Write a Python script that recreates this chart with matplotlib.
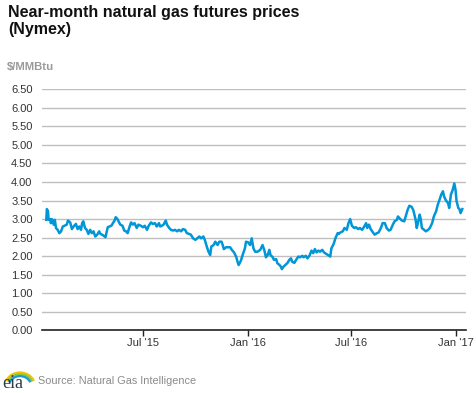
import matplotlib
matplotlib.use("Agg")
import matplotlib.pyplot as plt
from matplotlib.patches import Arc
import pandas as pd

dates = [
    "2015-01-12", "2015-01-13", "2015-01-15", "2015-01-16", "2015-01-19", "2015-01-20", "2015-01-22",
    "2015-01-25", "2015-01-27", "2015-01-29", "2015-02-01", "2015-02-04", "2015-02-07", "2015-02-10",
    "2015-02-13", "2015-02-17", "2015-02-19", "2015-02-23", "2015-02-26", "2015-03-01", "2015-03-05",
    "2015-03-08", "2015-03-11", "2015-03-14", "2015-03-16", "2015-03-18", "2015-03-21", "2015-03-24",
    "2015-03-27", "2015-03-30", "2015-04-02", "2015-04-05", "2015-04-08", "2015-04-11", "2015-04-15",
    "2015-04-17", "2015-04-20", "2015-04-23", "2015-04-26", "2015-04-30", "2015-05-03", "2015-05-07",
    "2015-05-09", "2015-05-12", "2015-05-14", "2015-05-17", "2015-05-20", "2015-05-22", "2015-05-26",
    "2015-05-29", "2015-06-01", "2015-06-04", "2015-06-07", "2015-06-10", "2015-06-13", "2015-06-16",
    "2015-06-20", "2015-06-23", "2015-06-27", "2015-07-01", "2015-07-04", "2015-07-08", "2015-07-11",
    "2015-07-15", "2015-07-18", "2015-07-22", "2015-07-25", "2015-07-29", "2015-07-31", "2015-08-03",
    "2015-08-06", "2015-08-10", "2015-08-12", "2015-08-16", "2015-08-19", "2015-08-23", "2015-08-26",
    "2015-08-30", "2015-09-02", "2015-09-06", "2015-09-09", "2015-09-13", "2015-09-16", "2015-09-20",
    "2015-09-23", "2015-09-27", "2015-10-01", "2015-10-04", "2015-10-08", "2015-10-11", "2015-10-15",
    "2015-10-18", "2015-10-21", "2015-10-24", "2015-10-27", "2015-10-29", "2015-11-02", "2015-11-05",
    "2015-11-09", "2015-11-12", "2015-11-16", "2015-11-18", "2015-11-20", "2015-11-24", "2015-11-27",
    "2015-12-01", "2015-12-04", "2015-12-08", "2015-12-12", "2015-12-14", "2015-12-16", "2015-12-20",
    "2015-12-23", "2015-12-27", "2015-12-29", "2016-01-02", "2016-01-05",
    "2016-01-08", "2016-01-11", "2016-01-14", "2016-01-18", "2016-01-23", "2016-01-27", "2016-01-30",
    "2016-02-02", "2016-02-05", "2016-02-08", "2016-02-10", "2016-02-14", "2016-02-16", "2016-02-20",
    "2016-02-22", "2016-02-26", "2016-02-28", "2016-03-01", "2016-03-04", "2016-03-07", "2016-03-11",
    "2016-03-14", "2016-03-17", "2016-03-19", "2016-03-23", "2016-03-26", "2016-03-30", "2016-04-02",
    "2016-04-06", "2016-04-08", "2016-04-12", "2016-04-15", "2016-04-19", "2016-04-22", "2016-04-25",
    "2016-04-28", "2016-05-01", "2016-05-04", "2016-05-07", "2016-05-11", "2016-05-14", "2016-05-18",
    "2016-05-21", "2016-05-25", "2016-05-27", "2016-05-31", "2016-06-03", "2016-06-07", "2016-06-09",
    "2016-06-12", "2016-06-16", "2016-06-19", "2016-06-23", "2016-06-26", "2016-06-29", "2016-07-02",
    "2016-07-06", "2016-07-09", "2016-07-13", "2016-07-16", "2016-07-20", "2016-07-23", "2016-07-27",
    "2016-07-29", "2016-08-01", "2016-08-04", "2016-08-08", "2016-08-11", "2016-08-15", "2016-08-18",
    "2016-08-22", "2016-08-25", "2016-08-29", "2016-09-01", "2016-09-05", "2016-09-08", "2016-09-12",
    "2016-09-15", "2016-09-19", "2016-09-21", "2016-09-25", "2016-09-28", "2016-10-02", "2016-10-05",
    "2016-10-08", "2016-10-11", "2016-10-15", "2016-10-18", "2016-10-22", "2016-10-24", "2016-10-26",
    "2016-10-29", "2016-10-31", "2016-11-02", "2016-11-06", "2016-11-09", "2016-11-13", "2016-11-16",
    "2016-11-20", "2016-11-23", "2016-11-27", "2016-11-30", "2016-12-03", "2016-12-06", "2016-12-09",
    "2016-12-11", "2016-12-14", "2016-12-18", "2016-12-20", "2016-12-23", "2016-12-26", "2016-12-29",
    "2016-12-31", "2017-01-02", "2017-01-05", "2017-01-07", "2017-01-09", "2017-01-12",
]

prices = [
    2.98, 3.27, 3.21, 2.98, 3.00, 2.89, 3.00,
    2.85, 2.98, 2.76, 2.71, 2.62, 2.67, 2.80,
    2.82, 2.85, 2.96, 2.91, 2.73, 2.80, 2.87,
    2.73, 2.80, 2.71, 2.89, 2.94, 2.76, 2.71,
    2.60, 2.71, 2.62, 2.67, 2.53, 2.57, 2.67,
    2.60, 2.58, 2.55, 2.51, 2.78, 2.80, 2.83,
    2.89, 2.96, 3.05, 3.00, 2.91, 2.85, 2.82,
    2.69, 2.67, 2.62, 2.78, 2.91, 2.85, 2.89,
    2.76, 2.85, 2.82, 2.78, 2.82, 2.71, 2.82,
    2.91, 2.87, 2.89, 2.80, 2.89, 2.80, 2.82,
    2.85, 2.96, 2.85, 2.76, 2.71, 2.69, 2.71,
    2.67, 2.71, 2.67, 2.73, 2.71, 2.62, 2.60,
    2.58, 2.48, 2.44, 2.48, 2.53, 2.48, 2.53,
    2.42, 2.26, 2.12, 2.03, 2.26, 2.30, 2.39,
    2.30, 2.39, 2.39, 2.30, 2.19, 2.24, 2.24,
    2.24, 2.17, 2.10, 1.97, 1.85, 1.76, 1.88,
    2.03, 2.21, 2.39, 2.37, 2.30,
    2.48, 2.21, 2.12, 2.12, 2.17, 2.30, 2.17,
    1.97, 2.03, 2.17, 2.03, 1.97, 1.90, 1.92,
    1.81, 1.76, 1.72, 1.65, 1.72, 1.76, 1.82,
    1.90, 1.94, 1.85, 1.82, 1.90, 1.99, 1.97,
    2.01, 1.97, 2.01, 1.94, 2.03, 2.15, 2.08,
    2.19, 2.10, 2.15, 2.12, 2.17, 2.10, 2.06,
    2.03, 1.99, 2.21, 2.33, 2.48, 2.62, 2.60,
    2.64, 2.67, 2.76, 2.71, 2.89, 3.00, 2.82,
    2.76, 2.78, 2.73, 2.76, 2.71, 2.78, 2.89,
    2.76, 2.85, 2.73, 2.64, 2.58, 2.62, 2.64,
    2.76, 2.89, 2.89, 2.76, 2.69, 2.71, 2.85,
    2.94, 2.98, 3.07, 3.00, 2.96, 2.94, 3.09,
    3.25, 3.36, 3.33, 3.24, 2.98, 2.76, 2.89,
    3.12, 3.00, 2.76, 2.71, 2.67, 2.71, 2.76,
    2.89, 3.07, 3.21, 3.39, 3.52, 3.66, 3.75,
    3.61, 3.51, 3.43, 3.30, 3.66, 3.78, 3.96,
    3.80, 3.48, 3.30, 3.27, 3.16, 3.27,
]

y_ticks = [0.0, 0.5, 1.0, 1.5, 2.0, 2.5, 3.0, 3.5, 4.0, 4.5, 5.0, 5.5, 6.0, 6.5]
x_ticks = ["2015-07-01", "2016-01-01", "2016-07-01", "2017-01-01"]
x_tick_labels = ["Jul '15", "Jan '16", "Jul '16", "Jan '17"]
x_range = ["2015-01-05", "2017-01-18"]

title = "Near-month natural gas futures prices\n(Nymex)"
unit = "$/MMBtu"
source = "Source: Natural Gas Intelligence"

plt.rcParams['font.family'] = ['Liberation Sans', 'DejaVu Sans']

fig = plt.figure(figsize=(4.77, 3.93), dpi=100)
ax = fig.add_axes([0.0887, 0.1595, 0.8876, 0.6133])

d = pd.to_datetime(dates)
ax.plot(d, prices, color="#0096d7", lw=1.8, solid_joinstyle="round")

ax.set_ylim(0, 6.5)
ax.set_yticks(y_ticks)
ax.set_yticklabels([f"{v:.2f}" for v in y_ticks])
ax.set_xlim(pd.to_datetime(x_range[0]), pd.to_datetime(x_range[1]))
ax.set_xticks(pd.to_datetime(x_ticks))
ax.set_xticklabels(x_tick_labels)

ax.grid(axis="y", color="#bfbfbf", lw=1)
ax.set_axisbelow(True)
for s in ["top", "right", "left"]:
    ax.spines[s].set_visible(False)
ax.spines["bottom"].set_color("#222222")
ax.spines["bottom"].set_linewidth(1.2)
ax.tick_params(axis="y", length=0, pad=7, labelsize=8, labelcolor="#333333")
ax.tick_params(axis="x", length=4, width=1, color="#222222", pad=1.5, labelsize=8, labelcolor="#333333")

fig.text(8 / 477, 1 - 5 / 393, title, ha="left", va="top", fontsize=11.5,
         fontweight="bold", color="#111111", linespacing=1.2)
fig.text(7 / 477, 1 - 67 / 393, unit, ha="left", va="center", fontsize=8.2,
         fontweight="bold", color="#9a9a9a")
fig.text(38 / 477, 1 - 381 / 393, source, ha="left", va="center", fontsize=7.8,
         color="#8a8a8a")

# eia logo
fig.text(2 / 477, 1 - 383 / 393, "eia", ha="left", va="center", fontsize=13,
         family="Liberation Serif", color="#2a3a4a")
lax = fig.add_axes([0, 0, 1, 1], facecolor="none")
lax.set_xlim(0, 477)
lax.set_ylim(393, 0)
lax.axis("off")
for r, c in [(15, "#f2c200"), (13, "#8cc63f"), (11, "#1a9ad6")]:
    lax.add_patch(Arc((20, 386), 2 * r, 2 * r * 0.9, theta1=200, theta2=340,
                      color=c, lw=1.6))

fig.savefig("out.png", dpi=100)
